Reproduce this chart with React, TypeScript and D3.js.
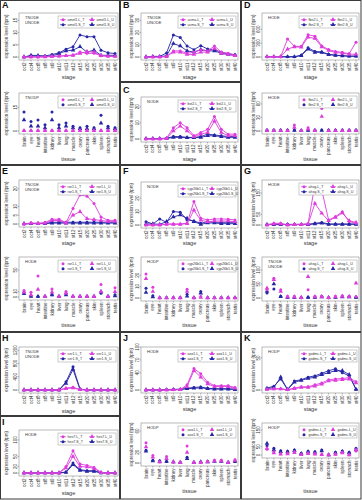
import React from 'react';
import * as d3 from 'd3';

const stages = ['oct2', 'oct4', 'oct8', 'st8', 'st9', 'st10', 'st11', 'st12', 'st15', 'st20', 'st25', 'st30', 'st35', 'st40'];
const tissues = ['brain', 'eye', 'heart', 'intestine', 'kidney', 'liver', 'lung', 'muscle', 'ovary', 'pancreas', 'skin', 'spleen', 'stomach', 'testis'];

// A
const aStgLT = [0, 0, 0, 0.2, 0.3, 0.4, 0.6, 0.8, 2, 1.5, 1.5, 0.5, 0.3, 0.3];
const aStgLU = [0, 0, 0, 0, 0.2, 0.3, 0.5, 0.6, 1.5, 2.2, 2, 0.6, 0.3, 0.2];
const aStgST = [0, 0.4, 0.4, 0.4, 1, 1.7, 3.2, 4.2, 9, 8.3, 8.3, 2.8, 1.7, 1.4];
const aStgSU = [0, 0.7, 0.6, 0.3, 0.4, 1.4, 2.5, 2.8, 4.2, 2, 2.8, 0.7, 0.7, 0.7];
const aTisLT = [0.3, 0.3, 0.3, 0.3, 0.3, 0.3, 0.3, 0.3, 0.3, 0.3, 0.3, 0.3, 0.3, 0.3];
const aTisLU = [0.2, 0.2, 0.2, 0.2, 0.2, 0.2, 0.2, 0.2, 0.2, 0.2, 0.2, 0.2, 0.2, 0.2];
const aTisST = [12, 6, 7, 4, 12, 4, 5, 3, 2, 3, 2, 10, 3, 2];
const aTisSU = [7, 3, 3, 2, 7, 2, 3, 2, 1.5, 1.5, 1.5, 5, 2, 1.5];
// B
const bStgLT = [0, 0, 0, 0.5, 5, 5, 3, 4, 6, 5, 9, 4, 3, 1.5];
const bStgLU = [0, 0, 0, 0.3, 4, 4, 2, 2, 4, 4, 7, 3, 2, 1];
const bStgST = [0, 0.5, 0.5, 3.3, 18, 16, 9, 6, 9.3, 6.5, 6, 3.8, 2.7, 1.9];
const bStgSU = [0, 0.3, 0.3, 1, 11, 9, 5, 4, 6, 5, 5, 3, 2, 1.5];
// C
const cStgLT = [0, 0, 0, 0.5, 7, 10, 7, 2, 4, 6, 14, 6, 3, 3];
const cStgLU = [0, 0, 0, 0.3, 5, 8, 5, 1.5, 3, 4, 11, 4, 2, 2];
const cStgST = [0.3, 0.3, 0.3, 0.5, 1.5, 1.5, 1, 1, 1.5, 3, 2.5, 2, 1.5, 1.5];
const cStgSU = [0.2, 0.2, 0.2, 0.3, 1, 1, 0.8, 0.8, 1, 2, 2, 1.5, 1, 1];
// D
const dStgLT = [5, 5, 5, 390, 230, 230, 480, 450, 240, 160, 120, 100, 70, 320];
const dStgLU = [5, 5, 5, 170, 220, 210, 430, 400, 220, 140, 100, 80, 60, 60];
const dStgST = [5, 5, 5, 5, 5, 40, 200, 120, 110, 60, 40, 30, 20, 20];
const dStgSU = [5, 5, 5, 5, 5, 30, 170, 100, 100, 50, 35, 25, 15, 15];
const dTisLT = [1, 1, 1, 1, 13, 1, 7, 1, 50, 1, 1, 1, 1, 1];
const dTisLU = [0.5, 0.5, 0.5, 0.5, 8, 0.5, 4, 0.5, 32, 0.5, 0.5, 0.5, 0.5, 0.5];
const dTisST = [2, 2, 2, 2, 2, 1, 2, 2, 2, 2, 2, 2, 2, 2];
const dTisSU = [1, 1, 1, 1, 1, 1, 1, 1, 1, 1, 1, 1, 1, 1];
// E
const eStgLT = [0, 0.6, 0.4, 0.8, 2.7, 2.7, 0.8, 8.8, 16.5, 15.8, 11.7, 4, 2.1, 2.1];
const eStgLU = [0, 0.4, 0.3, 0.5, 2, 2, 0.5, 5, 7, 3, 2.5, 2, 1.5, 1.5];
const eStgST = [0, 0.3, 0.3, 0.3, 1, 1, 1, 1, 1, 1, 1, 1, 1, 1];
const eStgSU = [0.2, 0.2, 0.2, 0.2, 0.5, 0.5, 0.5, 0.5, 0.5, 0.5, 0.5, 0.5, 0.5, 0.5];
const eTisLT = [12, 8.6, 39, 1, 15, 1, 10, 1, 1, 1, 1, 23, 1, 17];
const eTisLU = [9, 4, 14, 1, 9, 1, 7, 1, 1, 1, 1, 10, 1, 10];
const eTisST = [9, 2.5, 1, 1, 4, 1, 7, 1, 1, 1, 1, 7, 1, 4];
const eTisSU = [6, 1, 1, 1, 4, 1, 4, 1, 1, 1, 1, 10, 1, 2];
// F
const fStgLT = [0, 0, 0, 0.8, 0.8, 0.8, 1.3, 17.5, 5, 3.8, 4.5, 4.5, 4.3, 3.8];
const fStgLU = [0, 0, 0, 0.5, 0.5, 0.5, 1, 11, 3.5, 2.5, 3, 3, 3, 2.5];
const fStgST = [2.5, 0.8, 4.5, 2, 10, 9.5, 3.8, 3, 1.3, 2.5, 2, 2, 2, 2];
const fStgSU = [0.8, 0.8, 0.5, 2.5, 6, 7.5, 5, 2.5, 0.5, 1.5, 1.5, 1, 1, 1];
const fTisLT = [21, 9.4, 0.2, 0.2, 0.2, 0.2, 7.7, 0.2, 1.4, 0.2, 0.2, 0.2, 0.2, 0.2];
const fTisLU = [17, 5.7, 0.1, 0.1, 0.1, 0.1, 5.7, 0.1, 0.5, 0.1, 0.1, 0.1, 0.1, 0.1];
const fTisST = [8.6, 2, 0.3, 0.3, 0.3, 0.3, 3.4, 0.3, 5.7, 0.3, 0.3, 0.3, 0.3, 0.3];
const fTisSU = [4.9, 1, 0.2, 0.2, 0.2, 0.2, 1.5, 0.2, 4.3, 0.2, 0.2, 0.2, 0.2, 0.2];
// G
const gStgLT = [0, 8, 8, 0, 3, 3, 6, 190, 164, 23, 39, 62, 16, 8];
const gStgLU = [0, 5, 5, 0, 2, 2, 4, 101, 55, 20, 36, 56, 20, 12];
const gStgST = [3, 3, 3, 3, 3, 3, 3, 8, 12, 5, 5, 5, 5, 5];
const gStgSU = [2, 2, 2, 2, 2, 2, 2, 5, 8, 3, 3, 3, 3, 3];
const gTisLT = [29, 70, 29, 6, 6, 1, 29, 6, 6, 1, 6, 8, 6, 5];
const gTisLU = [35, 65, 23, 4, 4, 1, 76, 4, 4, 1, 4, 6, 4, 53];
const gTisST = [18, 32, 6, 3, 3, 1, 3, 3, 6, 1, 3, 6, 6, 3];
const gTisSU = [24, 50, 5, 2, 2, 1, 2, 2, 4, 1, 2, 4, 4, 2];
// H
const hStgLT = [0, 0, 0, 0, 0, 0, 60, 80, 20, 0, 0, 0, 0, 0];
const hStgLU = [0, 0, 0, 0, 0, 0, 40, 60, 10, 0, 0, 0, 0, 0];
const hStgST = [0, 0, 0, 0, 0, 0, 250, 700, 30, 0, 0, 0, 0, 0];
const hStgSU = [0, 0, 0, 0, 0, 0, 200, 620, 20, 0, 0, 0, 0, 0];
// I
const iStgLT = [0, 0, 0, 0, 0, 0, 20, 67, 27, 23, 17, 2, 0, 0];
const iStgLU = [0, 0, 0, 0, 0, 0, 15, 50, 20, 18, 14, 1, 0, 0];
const iStgST = [0, 0, 0, 0, 0, 0, 3, 30, 10, 7, 7, 1, 0, 0];
const iStgSU = [0, 0, 0, 0, 0, 0, 2, 25, 8, 5, 5, 0.5, 0, 0];
// J
const jStgLT = [0, 0, 0, 0, 0.5, 1, 12, 50, 38, 18, 10, 10, 10, 6];
const jStgLU = [0, 0, 0, 0, 0.5, 1, 8, 45, 30, 14, 8, 8, 8, 4];
const jStgST = [0, 0, 0, 1, 1.5, 2, 4, 6, 7, 4, 3, 3, 3, 2];
const jStgSU = [0, 0, 0, 0.5, 1, 1, 3, 4, 5, 3, 2, 2, 2, 1];
const jTisLT = [38, 14, 2, 12, 2, 1, 32, 1, 1, 3, 5, 5, 1, 6];
const jTisLU = [30, 11, 2, 8, 2, 1, 20, 1, 1, 2, 4, 4, 1, 5];
const jTisST = [24, 5, 4, 3, 2, 1, 11, 1, 2, 3, 4, 4, 1, 3];
const jTisSU = [22, 4, 3, 3, 2, 1, 8, 1, 2, 2, 3, 3, 1, 3];
// K
const kStgLT = [1, 2, 2, 0.5, 3, 5, 5, 8, 11, 16, 17, 18, 19, 13];
const kStgLU = [1, 1.5, 1.5, 0.5, 2, 4, 4, 6, 9, 14, 15, 16, 17, 11];
const kStgST = [3, 6, 17, 1, 14, 16, 20, 22, 26, 30, 33, 27, 22, 1];
const kStgSU = [2, 4, 20, 0.5, 12, 15, 18, 20, 24, 27, 30, 30, 24, 1];
const kTisLT = [35, 20, 8, 10, 20, 3, 12, 8, 4, 1, 6, 16, 2, 24];
const kTisLU = [40, 12, 5, 6, 14, 2, 8, 5, 2, 1, 4, 12, 1, 30];
const kTisST = [55, 40, 26, 22, 30, 10, 22, 20, 30, 1, 16, 24, 16, 40];
const kTisSU = [70, 30, 20, 18, 26, 8, 18, 16, 24, 1, 12, 20, 12, 32];

const MAG = '#dd3ddd';
const BLUE = '#2626a6';
const FONT = '"Liberation Sans", Arial, sans-serif';
const TXT = '#333';

interface ChartSpec {
    col: number;
    top: number;
    bottom: number;
    kind: 'stage' | 'tissue';
    gene: string;
    tag: string[];
    yTop: number;
    ticks: number[];
    series: number[][];
    titleY: number;
}

const colX = [0, 120, 241];
const leftPad = [19, 21, 21];
const yTitlePad = [8, 13, 14];

const charts: ChartSpec[] = [
    { col: 0, top: 13, bottom: 60, kind: 'stage', gene: 'amel1', tag: ['TNODE', 'UNODE'], yTop: 18, ticks: [0, 5, 10, 15], series: [aStgLT, aStgLU, aStgST, aStgSU], titleY: 79 },
    { col: 0, top: 93, bottom: 134, kind: 'tissue', gene: 'amel1', tag: ['TNODP'], yTop: 24, ticks: [0, 15], series: [aTisLT, aTisLU, aTisST, aTisSU], titleY: 161 },
    { col: 1, top: 13, bottom: 60, kind: 'stage', gene: 'ucma', tag: ['TNODE', 'UNODE'], yTop: 36, ticks: [0, 10, 20, 30], series: [bStgLT, bStgLU, bStgST, bStgSU], titleY: 79 },
    { col: 1, top: 97, bottom: 142, kind: 'stage', gene: 'bst2', tag: ['NODE'], yTop: 26, ticks: [0, 10, 20], series: [cStgLT, cStgLU, cStgST, cStgSU], titleY: 161 },
    { col: 2, top: 13, bottom: 60, kind: 'stage', gene: 'fbn2', tag: ['HODE'], yTop: 950, ticks: [0, 300, 600], series: [dStgLT, dStgLU, dStgST, dStgSU], titleY: 79 },
    { col: 2, top: 93, bottom: 134, kind: 'tissue', gene: 'fbn2', tag: ['HODE'], yTop: 84, ticks: [0, 30, 60], series: [dTisLT, dTisLU, dTisST, dTisSU], titleY: 161 },
    { col: 0, top: 180, bottom: 227, kind: 'stage', gene: 'ror1', tag: ['TNODE', 'UNODE'], yTop: 25, ticks: [0, 5, 10, 20], series: [eStgLT, eStgLU, eStgST, eStgSU], titleY: 245 },
    { col: 0, top: 257, bottom: 300, kind: 'tissue', gene: 'ror1', tag: ['HODE'], yTop: 74, ticks: [0, 10, 50], series: [eTisLT, eTisLU, eTisST, eTisSU], titleY: 327 },
    { col: 1, top: 182, bottom: 228, kind: 'stage', gene: 'cyp26b1', tag: ['NODE'], yTop: 32, ticks: [0, 10, 20], series: [fStgLT, fStgLU, fStgST, fStgSU], titleY: 245 },
    { col: 1, top: 257, bottom: 301, kind: 'tissue', gene: 'cyp26b1', tag: ['HODP'], yTop: 36, ticks: [0, 10, 20], series: [fTisLT, fTisLU, fTisST, fTisSU], titleY: 327 },
    { col: 2, top: 180, bottom: 228, kind: 'stage', gene: 'ahsg', tag: ['HODE'], yTop: 211, ticks: [0, 50, 150], series: [gStgLT, gStgLU, gStgST, gStgSU], titleY: 245 },
    { col: 2, top: 257, bottom: 301, kind: 'tissue', gene: 'ahsg', tag: ['TNODE', 'UNODE'], yTop: 146, ticks: [0, 50, 100], series: [gTisLT, gTisLU, gTisST, gTisSU], titleY: 327 },
    { col: 0, top: 347, bottom: 393, kind: 'stage', gene: 'cer1', tag: ['TNODE', 'UNODE'], yTop: 1300, ticks: [0, 400, 800, 1200], series: [hStgLT, hStgLU, hStgST, hStgSU], titleY: 413 },
    { col: 0, top: 430, bottom: 476, kind: 'stage', gene: 'hes7', tag: ['HODE'], yTop: 130, ticks: [0, 20, 50, 100], series: [iStgLT, iStgLU, iStgST, iStgSU], titleY: 495 },
    { col: 1, top: 347, bottom: 393, kind: 'stage', gene: 'aox1', tag: ['HODE'], yTop: 100, ticks: [0, 40, 70, 100], series: [jStgLT, jStgLU, jStgST, jStgSU], titleY: 411 },
    { col: 1, top: 423, bottom: 466, kind: 'tissue', gene: 'aox1', tag: ['HODP'], yTop: 75, ticks: [0, 20, 60], series: [jTisLT, jTisLU, jTisST, jTisSU], titleY: 493 },
    { col: 2, top: 347, bottom: 393, kind: 'stage', gene: 'gsdmc', tag: ['HODP'], yTop: 67, ticks: [0, 50], series: [kStgLT, kStgLU, kStgST, kStgSU], titleY: 411 },
    { col: 2, top: 423, bottom: 458, kind: 'tissue', gene: 'gsdmc', tag: ['HODP'], yTop: 192, ticks: [0, 50, 150], series: [kTisLT, kTisLU, kTisST, kTisSU], titleY: 493 },
];

const frames = [
    [0, 0, 120, 165], [120, 0, 121, 82], [120, 82, 121, 83], [241, 0, 120.5, 165],
    [0, 165, 120, 167], [120, 165, 121, 167], [241, 165, 120.5, 167],
    [0, 332, 120, 84], [0, 416, 120, 83.5], [120, 332, 121, 167.5], [241, 332, 120.5, 167.5],
];
const panelLabels = [
    ['A', 2, 8], ['B', 123, 8], ['C', 123, 93], ['D', 244, 8],
    ['E', 2, 174], ['F', 123, 174], ['G', 244, 174],
    ['H', 2, 341], ['I', 2, 425], ['J', 123, 341], ['K', 244, 341],
];

// series order: L_T, L_U (magenta), S_T, S_U (blue)
const seriesStyle = [
    { color: MAG, tri: false, suffix: '.L_T' },
    { color: MAG, tri: true, suffix: '.L_U' },
    { color: BLUE, tri: false, suffix: '.S_T' },
    { color: BLUE, tri: true, suffix: '.S_U' },
];

const triPath = d3.symbol().type(d3.symbolTriangle).size(9)() as string;

const Marker: React.FC<{ x: number; y: number; color: string; tri: boolean }> = ({ x, y, color, tri }) =>
    tri
        ? <path d={triPath} transform={`translate(${x},${y})`} fill={color} />
        : <circle cx={x} cy={y} r={1.5} fill={color} />;

const MiniChart: React.FC<{ c: ChartSpec }> = ({ c }) => {
    const x0 = colX[c.col];
    const left = x0 + leftPad[c.col];
    const right = x0 + 118;
    const cats = c.kind === 'stage' ? stages : tissues;
    const x = d3.scalePoint<string>().domain(cats).range([left + 5, right - 3]);
    const y = d3.scaleLinear().domain([0, c.yTop]).range([c.bottom - 3, c.top]);
    const line = d3.line<number>().x((_, i) => x(cats[i]) as number).y(d => y(d));
    const isLine = c.kind === 'stage';
    const lx = right - 60;
    const ly = c.top + 3;
    const drawOrder = [2, 3, 0, 1];

    return (
        <g fontFamily={FONT}>
            <rect x={left} y={c.top} width={right - left} height={c.bottom - c.top} fill="none" stroke="#8c8c8c" strokeWidth={0.6} />
            {c.ticks.map(t => (
                <g key={t}>
                    <line x1={left - 1.5} x2={left} y1={y(t)} y2={y(t)} stroke="#666" strokeWidth={0.5} />
                    <text transform={`translate(${left - 2.5},${y(t)}) rotate(-90)`} textAnchor="middle" fontSize={4.5} fill={TXT}>{t}</text>
                </g>
            ))}
            {cats.map(k => (
                <g key={k}>
                    <line x1={x(k)} x2={x(k)} y1={c.bottom} y2={c.bottom + 1.5} stroke="#666" strokeWidth={0.5} />
                    <text transform={`translate(${(x(k) as number) + 1.5},${c.bottom + 2.5}) rotate(-90)`} textAnchor="end" fontSize={4.5} fill={TXT}>{k}</text>
                </g>
            ))}
            <text x={(left + right) / 2} y={c.titleY} textAnchor="middle" fontSize={5.5} fill={TXT}>{c.kind}</text>
            <text transform={`translate(${x0 + yTitlePad[c.col]},${(c.top + c.bottom) / 2}) rotate(-90)`} textAnchor="middle" fontSize={4.5} fill={TXT}>expression level (tpm)</text>

            {drawOrder.map(si => {
                const s = seriesStyle[si];
                const vals = c.series[si];
                return (
                    <g key={si}>
                        {isLine && <path d={line(vals) as string} fill="none" stroke={s.color} strokeWidth={0.9} />}
                        {vals.map((v, i) => <Marker key={i} x={x(cats[i]) as number} y={y(v)} color={s.color} tri={s.tri} />)}
                    </g>
                );
            })}

            {c.tag.map((t, i) => (
                <text key={t} x={left + 6} y={c.top + 6 + i * 4.5} fontSize={4} fill={TXT}>{t}</text>
            ))}

            <rect x={lx} y={ly} width={58} height={12} fill="#fff" stroke="#9a9a9a" strokeWidth={0.5} />
            {seriesStyle.map((s, si) => {
                const ex = lx + 2 + (si % 2) * 29;
                const ey = ly + 3.7 + Math.floor(si / 2) * 5;
                return (
                    <g key={si}>
                        {isLine && <line x1={ex} x2={ex + 6} y1={ey} y2={ey} stroke={s.color} strokeWidth={0.7} />}
                        <Marker x={ex + 3} y={ey} color={s.color} tri={s.tri} />
                        <text x={ex + 7.5} y={ey + 1.3} fontSize={3.6} fill={TXT}>{c.gene + s.suffix}</text>
                    </g>
                );
            })}
        </g>
    );
};

export default function App() {
    return (
        <svg width={362} height={500} viewBox="0 0 362 500" style={{ position: 'absolute', left: 0, top: 0, background: '#fff' }}>
            <rect x={0} y={0} width={362} height={500} fill="#fff" />
            {frames.map((f, i) => (
                <rect key={i} x={f[0] + 0.5} y={f[1] + 0.5} width={f[2] - 1} height={f[3] - 1} fill="none" stroke="#3a3a3a" strokeWidth={1} />
            ))}
            {panelLabels.map(([t, px, py]) => (
                <text key={t as string} x={px as number} y={py as number} fontSize={9} fontWeight="bold" fontFamily={FONT} fill="#111">{t}</text>
            ))}
            {charts.map((c, i) => <MiniChart key={i} c={c} />)}
        </svg>
    );
}
